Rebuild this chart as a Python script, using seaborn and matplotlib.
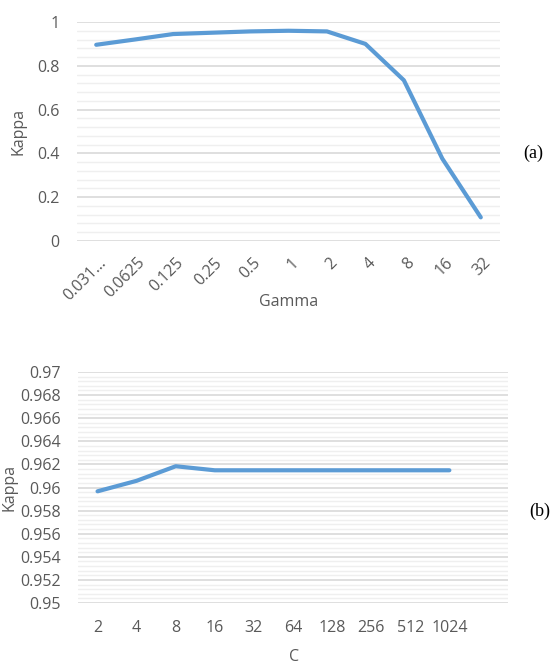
import numpy as np
import pandas as pd
import seaborn as sns
import matplotlib.pyplot as plt
from matplotlib.ticker import MultipleLocator
from matplotlib.transforms import ScaledTranslation

# Data
GAMMA_LABELS = ["0.031…", "0.0625", "0.125", "0.25", "0.5", "1", "2", "4", "8", "16", "32"]
GAMMA_KAPPA = [0.896, 0.920, 0.945, 0.951, 0.957, 0.960, 0.957, 0.900, 0.734, 0.376, 0.108]

C_LABELS = ["2", "4", "8", "16", "32", "64", "128", "256", "512", "1024", ""]
C_KAPPA = [0.95967, 0.96058, 0.96184, 0.96149, 0.96149, 0.96149, 0.96149,
           0.96149, 0.96149, 0.96149, np.nan]

TOP_YTICKS = [0, 0.2, 0.4, 0.6, 0.8, 1]
BOTTOM_YTICKS = [0.95, 0.952, 0.954, 0.956, 0.958, 0.96, 0.962, 0.964, 0.966, 0.968, 0.97]

LINE_COLOR = "#5B9BD5"
TEXT_COLOR = "#595959"

sns.set_style("white")
plt.rcParams["font.family"] = ["Open Sans", "DejaVu Sans"]

gamma_df = pd.DataFrame({"pos": np.arange(len(GAMMA_LABELS)), "kappa": GAMMA_KAPPA})
c_df = pd.DataFrame({"pos": np.arange(len(C_LABELS)), "kappa": C_KAPPA})

fig = plt.figure(figsize=(5.5, 6.64), dpi=100)
ax1 = fig.add_axes([77 / 550, 1 - 241 / 664, 423 / 550, 219 / 664])
ax2 = fig.add_axes([78 / 550, 1 - 603 / 664, 430 / 550, 231 / 664])


def style_axes(ax, yticks, minor_step, labels):
    ax.set_yticks(yticks)
    ax.set_yticklabels([f"{t:g}" for t in yticks])
    ax.set_ylim(yticks[0], yticks[-1])
    ax.yaxis.set_minor_locator(MultipleLocator(minor_step))
    ax.set_xticks(np.arange(len(labels)))
    ax.set_xlim(-0.5, len(labels) - 0.5)
    ax.grid(False, axis="x")
    ax.grid(True, axis="y", which="major", color="#D9D9D9", linewidth=1.2)
    ax.grid(True, axis="y", which="minor", color="#EFEFEF", linewidth=1.0)
    ax.set_axisbelow(True)
    for s in ax.spines.values():
        s.set_visible(False)
    ax.tick_params(which="both", length=0, labelsize=11.5, labelcolor=TEXT_COLOR)
    ax.tick_params(axis="y", pad=12.5)


# --- (a) Gamma ---
sns.lineplot(data=gamma_df, x="pos", y="kappa", ax=ax1, color=LINE_COLOR,
             linewidth=3, solid_capstyle="round")
style_axes(ax1, TOP_YTICKS, 0.04, GAMMA_LABELS)
ax1.set_xticklabels(GAMMA_LABELS, rotation=45, ha="right", va="center",
                    rotation_mode="anchor")
ax1.tick_params(axis="x", pad=14)
shift = ScaledTranslation(8 / 100, 0, fig.dpi_scale_trans)
for lab in ax1.get_xticklabels():
    lab.set_transform(lab.get_transform() + shift)

ax1.set_xlabel("Gamma", fontsize=11.5, color=TEXT_COLOR, va="center")
ax1.xaxis.set_label_coords(0.499, (241 - 302) / 219)
ax1.set_ylabel("Kappa", fontsize=11.5, color=TEXT_COLOR, va="center")
ax1.yaxis.set_label_coords((18 - 77) / 423, 0.498)

# --- (b) C ---
sns.lineplot(data=c_df, x="pos", y="kappa", ax=ax2, color=LINE_COLOR,
             linewidth=3, solid_capstyle="round")
style_axes(ax2, BOTTOM_YTICKS, 0.0004, C_LABELS)
ax2.set_xticklabels(C_LABELS)
ax2.tick_params(axis="x", pad=12)

ax2.set_xlabel("C", fontsize=11.5, color=TEXT_COLOR, va="center")
ax2.xaxis.set_label_coords((294 - 78) / 430, (603 - 657) / 231)
ax2.set_ylabel("Kappa", fontsize=11.5, color=TEXT_COLOR, va="center")
ax2.yaxis.set_label_coords((10 - 78) / 430, 0.502)

# panel tags
fig.text(523 / 550, 1 - 153 / 664, "(a)", family="Liberation Serif", fontsize=13,
         va="center", ha="left", color="black")
fig.text(529 / 550, 1 - 511 / 664, "(b)", family="Liberation Serif", fontsize=13,
         va="center", ha="left", color="black")

fig.savefig("out.png", dpi=100)
